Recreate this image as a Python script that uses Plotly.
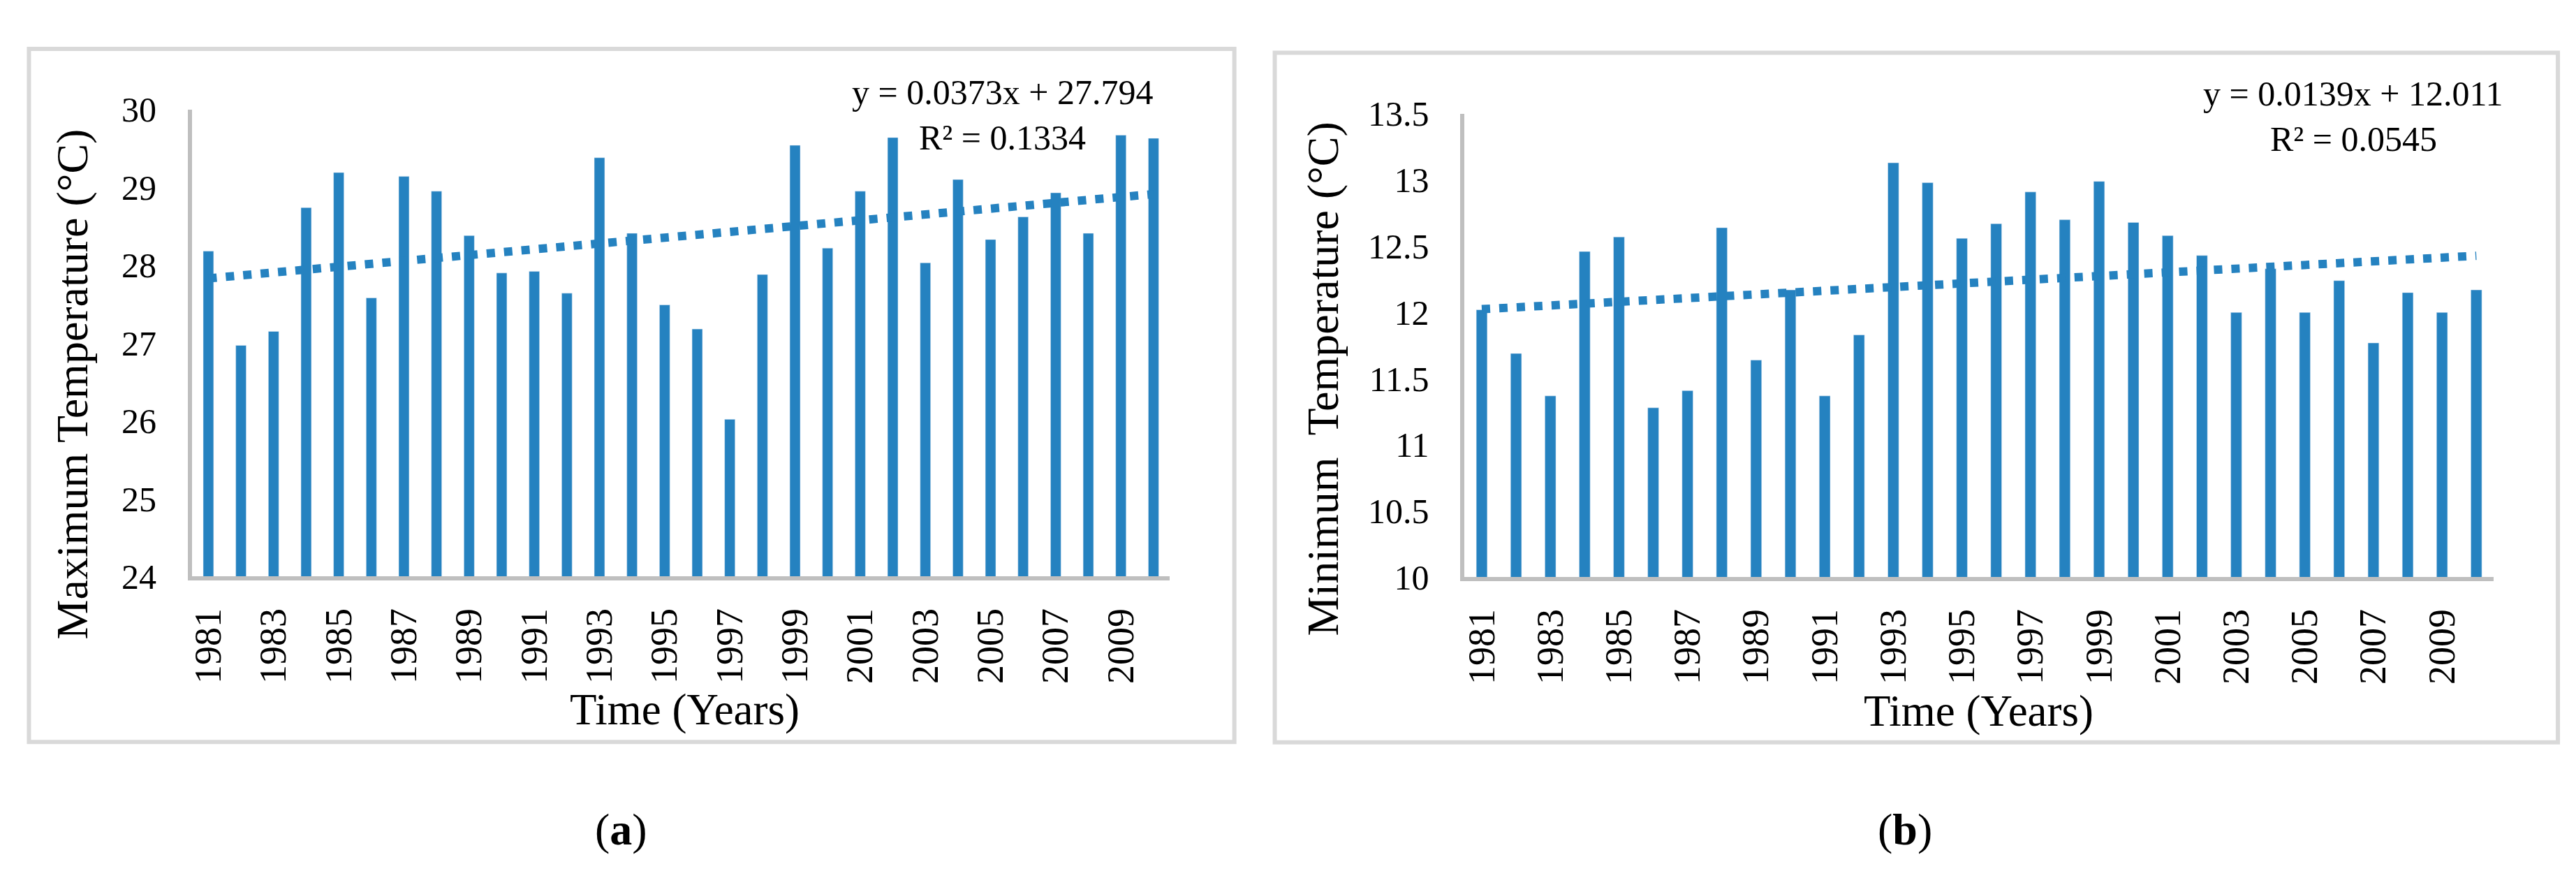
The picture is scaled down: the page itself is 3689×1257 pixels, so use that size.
import plotly.graph_objects as go

# ---------------- data ----------------
years = list(range(1981, 2011))
tmax = [28.18, 26.97, 27.15, 28.74, 29.19, 27.58, 29.14, 28.95, 28.38, 27.90,
        27.92, 27.64, 29.38, 28.41, 27.49, 27.18, 26.02, 27.88, 29.54, 28.22,
        28.95, 29.64, 28.03, 29.10, 28.33, 28.62, 28.93, 28.41, 29.67, 29.63]
tmin = [12.02, 11.69, 11.37, 12.46, 12.57, 11.28, 11.41, 12.64, 11.64, 12.17,
        11.37, 11.83, 13.13, 12.98, 12.56, 12.67, 12.91, 12.70, 12.99, 12.68,
        12.58, 12.43, 12.00, 12.33, 12.00, 12.24, 11.77, 12.15, 12.00, 12.17]
tick_years = list(range(1981, 2010, 2))
tick_text = [str(y) for y in tick_years]

max_slope, max_intercept, max_r2 = 0.0373, 27.794, 0.1334
min_slope, min_intercept, min_r2 = 0.0139, 12.011, 0.0545

max_title = "Maximum Temperature (°C)"
min_title = "Minimum\u00a0 Temperature (°C)"
x_title = "Time (Years)"

# ---------------- styling ----------------
W, H = 3689, 1257
BLUE = "#2582C0"
AXIS = "#BFBFBF"
BORDER = "#D9D9D9"
FONT = "Liberation Serif"


def px(x):
    return x / W


def py(y):
    return 1 - y / H


# trend line endpoints from the regression equations (x = 1 .. 30)
t_idx = [1, len(years)]
t_years = [years[0], years[-1]]
max_trend = [max_intercept + max_slope * t for t in t_idx]
min_trend = [min_intercept + min_slope * t for t in t_idx]

fig = go.Figure()
fig.add_trace(go.Bar(x=years, y=tmax, marker_color=BLUE, width=0.32,
                     xaxis="x", yaxis="y", showlegend=False))
fig.add_trace(go.Scatter(x=t_years, y=max_trend, mode="lines",
                         line=dict(color=BLUE, width=12, dash="12px,13px"),
                         xaxis="x", yaxis="y", showlegend=False))
fig.add_trace(go.Bar(x=years, y=tmin, marker_color=BLUE, width=0.32,
                     xaxis="x2", yaxis="y2", showlegend=False))
fig.add_trace(go.Scatter(x=t_years, y=min_trend, mode="lines",
                         line=dict(color=BLUE, width=12, dash="12px,13px"),
                         xaxis="x2", yaxis="y2", showlegend=False))

xcommon = dict(range=[1980.5, 2010.5], tickvals=tick_years, ticktext=tick_text,
               tickangle=-90, showline=True, linecolor=AXIS, linewidth=6,
               ticks="", showgrid=False, zeroline=False,
               tickfont=dict(family=FONT, size=54, color="black"),
               ticklabelstandoff=18, fixedrange=True)
ycommon = dict(showline=True, linecolor=AXIS, linewidth=6, ticks="",
               showgrid=False, zeroline=False,
               tickfont=dict(family=FONT, size=50, color="black"),
               ticklabelstandoff=35, fixedrange=True)

fig.update_layout(
    width=W, height=H, autosize=False,
    margin=dict(l=0, r=0, t=0, b=0),
    paper_bgcolor="white", plot_bgcolor="white",
    xaxis=dict(domain=[px(260.6), px(1663.4)], anchor="y", **xcommon),
    yaxis=dict(domain=[py(827), py(126.5)], anchor="x", range=[24, 30], dtick=1, **ycommon),
    xaxis2=dict(domain=[px(2086.4), px(3562.6)], anchor="y2", **xcommon),
    yaxis2=dict(domain=[py(828), py(133)], anchor="x2", range=[10, 13.5], dtick=0.5, **ycommon),
    bargap=0.68,
)

shapes = [
    dict(type="rect", xref="paper", yref="paper", x0=px(26.5), x1=px(1756),
         y0=py(1075), y1=py(35.5), line=dict(color=BORDER, width=6), layer="below"),
    dict(type="rect", xref="paper", yref="paper", x0=px(1814), x1=px(3655),
         y0=py(1075.5), y1=py(41.5), line=dict(color=BORDER, width=6), layer="below"),
]
fig.update_layout(shapes=shapes)


def ann(x, y, text, size, angle=0):
    return dict(xref="paper", yref="paper", x=px(x), y=py(y), text=text,
                showarrow=False, xanchor="center", yanchor="middle",
                textangle=angle, font=dict(family=FONT, size=size, color="black"))


annotations = [
    ann(1423, 100.5, f"y = {max_slope}x + {max_intercept}", 50),
    ann(1423, 168.5, f"R² = {max_r2}", 50),
    ann(3361, 103, f"y = {min_slope}x + {min_intercept}", 50),
    ann(3362, 171, f"R² = {min_r2}", 50),
    ann(89, 538, max_title, 64, -90),
    ann(1884, 530, min_title, 64, -90),
    ann(967, 1027, x_title, 63),
    ann(2824, 1029, x_title, 63),
    ann(876, 1206, "(<b>a</b>)", 64),
    ann(2718, 1206, "(<b>b</b>)", 64),
]
fig.update_layout(annotations=annotations)

fig.write_html("out.html", config={"displayModeBar": False})
